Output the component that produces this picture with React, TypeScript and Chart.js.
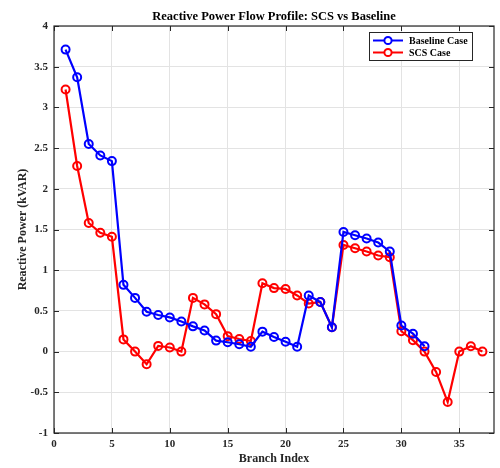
import React, { useEffect, useRef } from "react";
import { Chart, registerables } from "chart.js";

Chart.register(...registerables);

const baselineIdx = [1, 2, 3, 4, 5, 6, 7, 8, 9, 10, 11, 12, 13, 14, 15, 16, 17, 18, 19, 20, 21, 22, 23, 24, 25, 26, 27, 28, 29, 30, 31, 32];
const baselineQ = [3.71, 3.37, 2.55, 2.41, 2.34, 0.82, 0.66, 0.49, 0.45, 0.42, 0.37, 0.31, 0.26, 0.135, 0.115, 0.09, 0.06, 0.245, 0.18, 0.12, 0.06, 0.69, 0.61, 0.30, 1.47, 1.43, 1.39, 1.34, 1.23, 0.32, 0.22, 0.065];

const scsIdx = [1, 2, 3, 4, 5, 6, 7, 8, 9, 10, 11, 12, 13, 14, 15, 16, 17, 18, 19, 20, 21, 22, 23, 24, 25, 26, 27, 28, 29, 30, 31, 32, 33, 34, 35, 36, 37];
const scsQ = [3.22, 2.28, 1.58, 1.46, 1.41, 0.15, 0.0, -0.155, 0.07, 0.05, 0.0, 0.66, 0.58, 0.46, 0.19, 0.155, 0.13, 0.84, 0.78, 0.77, 0.69, 0.59, 0.61, 0.30, 1.31, 1.27, 1.23, 1.18, 1.16, 0.25, 0.14, 0.0, -0.25, -0.62, 0.0, 0.065, 0.0];

const seriesNames = ["Baseline Case", "SCS Case"];
const seriesColors = ["#0000ff", "#ff0000"];
const chartTitle = "Reactive Power Flow Profile: SCS vs Baseline";
const xTitle = "Branch Index";
const yTitle = "Reactive Power (kVAR)";

const FONT = "'Liberation Serif', 'Times New Roman', serif";
const AXIS_COLOR = "#262626";

const boxPlugin = {
  id: "matlabBox",
  afterDatasetsDraw(chart: any) {
    const { ctx, chartArea } = chart;
    const { left, right, top, bottom } = chartArea;
    ctx.save();
    ctx.strokeStyle = AXIS_COLOR;
    ctx.lineWidth = 1;
    const tl = 5;
    const xs = chart.scales.x;
    const ys = chart.scales.y;
    ctx.beginPath();
    xs.ticks.forEach((t: any) => {
      const px = Math.round(xs.getPixelForValue(t.value)) + 0.5;
      ctx.moveTo(px, bottom);
      ctx.lineTo(px, bottom - tl);
      ctx.moveTo(px, top);
      ctx.lineTo(px, top + tl);
    });
    ys.ticks.forEach((t: any) => {
      const py = Math.round(ys.getPixelForValue(t.value)) + 0.5;
      ctx.moveTo(left, py);
      ctx.lineTo(left + tl, py);
      ctx.moveTo(right, py);
      ctx.lineTo(right - tl, py);
    });
    ctx.stroke();
    ctx.lineWidth = 1.2;
    ctx.strokeRect(left, top, right - left, bottom - top);

    // title centred over the axes (MATLAB style)
    ctx.fillStyle = "#000000";
    ctx.font = `bold 12.5px ${FONT}`;
    ctx.textAlign = "center";
    ctx.textBaseline = "middle";
    ctx.fillText(chartTitle, (left + right) / 2, 16.5);

    // legend (MATLAB style, inside top-right)
    const bx = 369, by = 32, bw = 103, bh = 28;
    ctx.fillStyle = "#ffffff";
    ctx.fillRect(bx, by, bw, bh);
    ctx.strokeStyle = AXIS_COLOR;
    ctx.lineWidth = 1;
    ctx.strokeRect(bx + 0.5, by + 0.5, bw, bh);
    chart.data.datasets.forEach((ds: any, i: number) => {
      const cy = by + 8.5 + i * 12;
      ctx.strokeStyle = ds.borderColor;
      ctx.lineWidth = 2;
      ctx.beginPath();
      ctx.moveTo(bx + 4, cy);
      ctx.lineTo(bx + 34, cy);
      ctx.stroke();
      ctx.beginPath();
      ctx.arc(bx + 19, cy, 3.6, 0, Math.PI * 2);
      ctx.fillStyle = "#ffffff";
      ctx.fill();
      ctx.stroke();
      ctx.fillStyle = "#000000";
      ctx.font = `bold 10px ${FONT}`;
      ctx.textAlign = "left";
      ctx.textBaseline = "middle";
      ctx.fillText(ds.label, bx + 40, cy + 0.5);
    });
    ctx.restore();
  },
};

export default function App() {
  const ref = useRef<HTMLCanvasElement | null>(null);
  useEffect(() => {
    if (!ref.current) return;
    const mk = (xs: number[], ys: number[]) => xs.map((x, i) => ({ x, y: ys[i] }));
    const chart = new Chart(ref.current, {
      type: "line",
      data: {
        datasets: [
          {
            label: seriesNames[0],
            data: mk(baselineIdx, baselineQ),
            borderColor: seriesColors[0],
            backgroundColor: "#ffffff",
            borderWidth: 2.2,
            pointRadius: 4,
            pointBorderWidth: 2,
            pointBackgroundColor: "rgba(255,255,255,0)",
            pointBorderColor: seriesColors[0],
            tension: 0,
          },
          {
            label: seriesNames[1],
            data: mk(scsIdx, scsQ),
            borderColor: seriesColors[1],
            backgroundColor: "#ffffff",
            borderWidth: 2.2,
            pointRadius: 4,
            pointBorderWidth: 2,
            pointBackgroundColor: "rgba(255,255,255,0)",
            pointBorderColor: seriesColors[1],
            tension: 0,
          },
        ],
      },
      options: {
        responsive: false,
        animation: false,
        layout: { padding: { left: 0, right: 6, top: 26, bottom: 0 } },
        plugins: {
          legend: { display: false },
          tooltip: { enabled: false },
          title: { display: false },
        },
        scales: {
          x: {
            type: "linear",
            min: 0,
            max: 38,
            afterBuildTicks: (s: any) => {
              s.ticks = s.ticks.filter((t: any) => t.value % 5 === 0);
            },
            ticks: {
              stepSize: 5,
              color: "#262626",
              font: { family: FONT, size: 11, weight: "bold" },
              padding: 5,
              maxRotation: 0,
            },
            grid: { color: "#e3e3e3", drawTicks: false, lineWidth: 1 },
            border: { display: false },
            title: {
              display: true,
              text: xTitle,
              color: "#262626",
              font: { family: FONT, size: 12, weight: "bold" },
              padding: { top: 0, bottom: 2 },
            },
            afterFit: (s: any) => {
              s.height = 35;
            },
          },
          y: {
            type: "linear",
            min: -1,
            max: 4,
            ticks: {
              stepSize: 0.5,
              color: "#262626",
              font: { family: FONT, size: 11, weight: "bold" },
              padding: 6,
              callback: (v: any) => `${+(+v).toFixed(2)}`,
            },
            grid: { color: "#e3e3e3", drawTicks: false, lineWidth: 1 },
            border: { display: false },
            title: {
              display: true,
              text: yTitle,
              color: "#262626",
              font: { family: FONT, size: 12, weight: "bold" },
              padding: { top: 16, bottom: 0 },
            },
            afterFit: (s: any) => {
              s.width = 54;
            },
          },
        },
      },
      plugins: [boxPlugin],
    });
    return () => chart.destroy();
  }, []);
  return (
    <div style={{ position: "fixed", left: 0, top: 0, width: 500, height: 468, background: "#ffffff" }}>
      <canvas ref={ref} width={500} height={468} />
    </div>
  );
}
